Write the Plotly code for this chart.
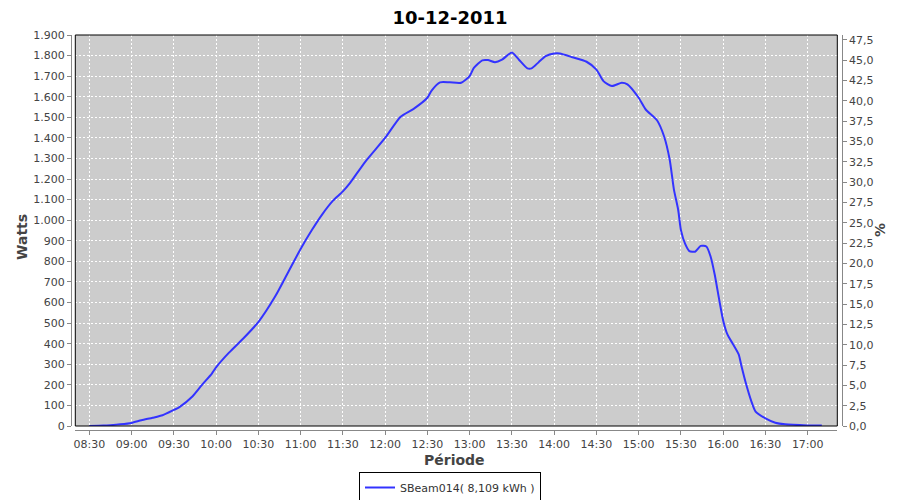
import plotly.graph_objects as go

DAY = "2011-12-10 "
times = ["08:30", "08:40", "08:45", "08:52", "09:00", "09:07", "09:15", "09:22", "09:30", "09:34",
         "09:43", "09:50", "09:57", "10:00", "10:09", "10:20", "10:30", "10:42", "10:51", "11:00",
         "11:08", "11:15", "11:23", "11:30", "11:35", "11:46", "12:00", "12:11", "12:20", "12:30",
         "12:33", "12:39", "12:46", "12:54", "13:00", "13:03", "13:09", "13:13", "13:18", "13:23",
         "13:30", "13:35", "13:41", "13:44", "13:49", "13:54", "14:00", "14:04", "14:13", "14:23",
         "14:30", "14:35", "14:41", "14:48", "14:52", "15:00", "15:05", "15:13", "15:18", "15:22",
         "15:25", "15:28", "15:30", "15:33", "15:36", "15:40", "15:44", "15:48", "15:51", "15:54",
         "15:57", "16:00", "16:03", "16:07", "16:11", "16:13", "16:16", "16:20", "16:23", "16:30",
         "16:37", "16:44", "17:00", "17:10"]
watts = [0, 2, 4, 8, 15, 28, 40, 52, 78, 92,
         142, 200, 255, 285, 355, 430, 505, 630, 745, 860,
         952, 1025, 1095, 1140, 1180, 1285, 1400, 1503, 1540, 1595,
         1630, 1670, 1670, 1668, 1700, 1740, 1777, 1778, 1768, 1780,
         1815, 1780, 1738, 1738, 1768, 1797, 1810, 1810, 1792, 1770,
         1732, 1676, 1652, 1668, 1660, 1595, 1538, 1486, 1408, 1295,
         1150, 1052, 952, 885, 850, 847, 875, 872, 825, 735,
         620, 512, 445, 397, 348, 290, 210, 120, 70, 37,
         16, 8, 3, 2]
series_name = "SBeam014( 8,109 kWh )"
title_text = "10-12-2011"
left_title = "Watts"
right_title = "%"
x_title = "Période"

x = [DAY + t + ":00" for t in times]

# page body has an 8px margin: lay out in figure coordinates = screen - 8
OFF = 8
W, H = 900 - OFF, 500 - OFF


def px(v):
    return (v - OFF) / W


def py(v):
    return (H - (v - OFF)) / H


PL, PR, PT, PB = 75.3, 837.3, 35, 426

fig = go.Figure()
fig.add_trace(go.Scatter(x=x, y=watts, mode="lines", name=series_name,
                         line=dict(color="#3333ff", width=2, shape="spline", smoothing=0.6)))
fig.add_trace(go.Scatter(x=[], y=[], yaxis="y2", showlegend=False, hoverinfo="skip"))

tickfont = dict(family="DejaVu Sans", size=11, color="#444444")
grid = dict(showgrid=True, gridcolor="white", gridwidth=1, griddash="2px,2px")
axcommon = dict(ticks="outside", ticklen=4, tickcolor="#888888", showline=True, linecolor="#888888",
                linewidth=1, tickfont=tickfont, zeroline=False, automargin=False)

fig.update_layout(
    width=W, height=H,
    margin=dict(l=0, r=0, t=0, b=0, autoexpand=False),
    paper_bgcolor="white", plot_bgcolor="#cccccc",
    separators=",.",
    showlegend=True,
    title=dict(text="<b>" + title_text + "</b>", x=px(450), xanchor="center", y=py(18), yanchor="middle",
               font=dict(family="DejaVu Sans", size=18, color="black")),
    xaxis=dict(domain=[px(PL), px(PR)], anchor="free", position=py(430),
               type="date", range=[DAY + "08:20:04", DAY + "17:21:00"],
               dtick=30 * 60 * 1000, tick0=DAY + "08:30:00", tickformat="%H:%M",
               **axcommon, **grid),
    yaxis=dict(domain=[py(PB), py(PT)], anchor="free", position=px(71),
               range=[0, 1900], dtick=100, tickformat=",.0f",
               **axcommon, **grid),
    yaxis2=dict(overlaying="y", side="right", anchor="free", position=px(841.7),
                range=[0, 48.1], dtick=2.5, tickformat=".1f", showgrid=False, **axcommon),
    legend=dict(orientation="h", x=px(450), xanchor="center", y=py(487.5), yanchor="middle",
                bgcolor="white", bordercolor="black", borderwidth=1,
                font=dict(family="DejaVu Sans", size=11, color="#333333"), itemwidth=30,
                tracegroupgap=0),
    shapes=[dict(type="rect", xref="x domain", yref="y domain", x0=0, x1=1, y0=0, y1=1,
                 line=dict(color="black", width=1), fillcolor="rgba(0,0,0,0)", layer="above")],
    annotations=[
        dict(text="<b>" + left_title + "</b>", xref="paper", yref="paper", x=px(22), y=py(237),
             xanchor="center", yanchor="middle",
             textangle=-90, showarrow=False, font=dict(family="DejaVu Sans", size=14, color="#444444")),
        dict(text="<b>" + x_title + "</b>", xref="paper", yref="paper", x=px(454), y=py(460),
             xanchor="center", yanchor="middle",
             showarrow=False, font=dict(family="DejaVu Sans", size=14, color="#444444")),
        dict(text="<b>" + right_title + "</b>", xref="paper", yref="paper", x=px(880), y=py(230),
             xanchor="center", yanchor="middle",
             textangle=-90, showarrow=False, font=dict(family="DejaVu Sans", size=14, color="#444444")),
    ],
)

fig.write_html("out.html")
